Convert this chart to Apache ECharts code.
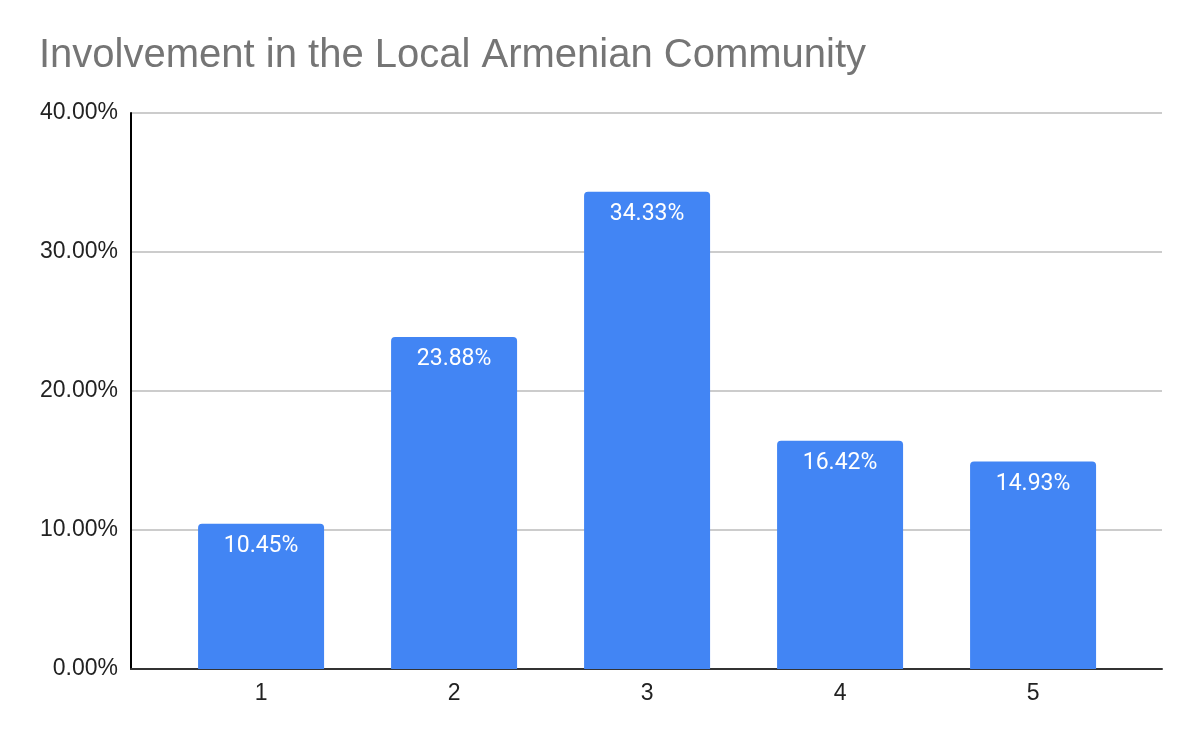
<!DOCTYPE html>
<html>
<head>
<meta charset="utf-8">
<title>Involvement in the Local Armenian Community</title>
<script src="https://cdn.jsdelivr.net/npm/echarts@6/dist/echarts.min.js"></script>
<style>
  html, body { margin: 0; padding: 0; background: #fff; }
  #myChart { width: 1200px; height: 742px; }
</style>
</head>
<body>
<div id="myChart"></div>
<script>
// chart data
var categories = [1, 2, 3, 4, 5];
var shares = [10.45, 23.88, 34.33, 16.42, 14.93];
var yTicks = { min: 0, max: 40, interval: 10 };

document.addEventListener('DOMContentLoaded', () => {
    var myChart = echarts.init(document.getElementById('myChart'));

    // pairs of [category, share] for the value-type x axis
    var barData = categories.map((c, i) => [c, shares[i]]);

    myChart.setOption({
        animation: false,
        backgroundColor: '#ffffff',
        title: {
            text: 'Involvement in the Local Armenian Community',
            left: 34,
            top: 31,
            textStyle: {
                fontFamily: 'Liberation Sans, Arial, sans-serif',
                fontSize: 40,
                fontWeight: 'normal',
                color: '#757575'
            }
        },
        grid: { left: 131, right: 38, top: 113, bottom: 73 },
        xAxis: {
            type: 'value',
            // padding around the first and last category, as in the sheet
            min: 0.326,
            max: 5.668,
            splitLine: { show: false },
            axisTick: { show: false },
            axisLine: { show: true, lineStyle: { color: '#333333', width: 2 } },
            axisLabel: {
                customValues: categories,
                margin: 13,
                color: '#222222',
                fontFamily: 'Liberation Sans, Arial, sans-serif',
                fontSize: 23
            }
        },
        yAxis: {
            type: 'value',
            min: yTicks.min,
            max: yTicks.max,
            interval: yTicks.interval,
            axisLine: { show: true, lineStyle: { color: '#000000', width: 2 } },
            axisTick: { show: false },
            splitLine: { lineStyle: { color: '#cccccc', width: 2 } },
            axisLabel: {
                margin: 13,
                padding: [8, 0, 0, 0],
                color: '#222222',
                fontFamily: 'Liberation Sans, Arial, sans-serif',
                fontSize: 23,
                formatter: v => v.toFixed(2) + '%'
            }
        },
        series: [{
            type: 'bar',
            data: barData,
            barWidth: 126,
            itemStyle: { color: '#4285f4', borderRadius: [4, 4, 0, 0] },
            label: {
                show: true,
                position: 'insideTop',
                distance: 11,
                color: '#ffffff',
                fontFamily: 'Roboto, sans-serif',
                fontSize: 23,
                formatter: p => p.value[1].toFixed(2) + '%'
            }
        }]
    });
});
</script>
</body>
</html>
